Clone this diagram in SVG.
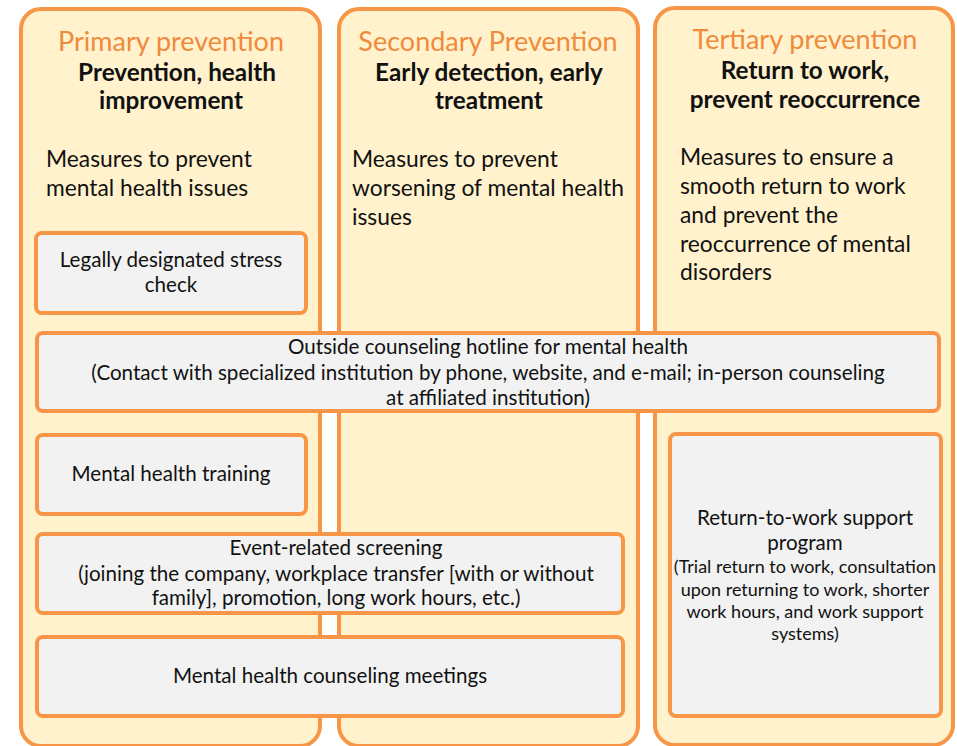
<svg xmlns="http://www.w3.org/2000/svg" width="957" height="746" viewBox="0 0 957 746">
<style>
.col{fill:#FFF2CC;stroke:#F79646;stroke-width:4}
.box{fill:#F2F2F2;stroke:#F79646;stroke-width:4}
text{font-family:Lato,"Noto Sans",sans-serif;fill:#111}
.title{font-size:27px;fill:#F08A3C;text-anchor:middle}
.sub{font-size:24.3px;font-weight:bold;text-anchor:middle}
.desc{font-size:22.8px}
.bt{font-size:20.6px;text-anchor:middle}
.st{font-size:18px;text-anchor:middle}
</style>
<rect width="957" height="746" fill="#fff"/>
<g id="primary">
<rect class="col" x="21" y="9" width="299" height="737" rx="20"/>
<text class="title" x="171" y="51">Primary prevention</text>
<text class="sub" x="177" y="81">Prevention, health</text>
<text class="sub" x="171" y="109">improvement</text>
<text class="desc" x="46" y="167">Measures to prevent</text>
<text class="desc" x="46" y="196">mental health issues</text>
</g>
<g id="secondary">
<rect class="col" x="339" y="9" width="299" height="737" rx="20"/>
<text class="title" x="488" y="51">Secondary Prevention</text>
<text class="sub" x="489" y="81">Early detection, early</text>
<text class="sub" x="489" y="109">treatment</text>
<text class="desc" x="352" y="167">Measures to prevent</text>
<text class="desc" x="352" y="196">worsening of mental health</text>
<text class="desc" x="352" y="225">issues</text>
</g>
<g id="tertiary">
<rect class="col" x="655" y="8" width="298" height="737" rx="20"/>
<text class="title" x="805" y="49">Tertiary prevention</text>
<text class="sub" x="805" y="79">Return to work,</text>
<text class="sub" x="805" y="108">prevent reoccurrence</text>
<text class="desc" x="680" y="165">Measures to ensure a</text>
<text class="desc" x="680" y="194">smooth return to work</text>
<text class="desc" x="680" y="223">and prevent the</text>
<text class="desc" x="680" y="252">reoccurrence of mental</text>
<text class="desc" x="680" y="280">disorders</text>
</g>
<g id="stress-check">
<rect class="box" x="36" y="233" width="270" height="80" rx="6"/>
<text class="bt" x="171" y="267">Legally designated stress</text>
<text class="bt" x="171" y="292">check</text>
</g>
<g id="hotline">
<rect class="box" x="37" y="333" width="902" height="78" rx="6"/>
<text class="bt" x="488" y="354">Outside counseling hotline for mental health</text>
<text class="bt" x="488" y="380">(Contact with specialized institution by phone, website, and e-mail; in-person counseling</text>
<text class="bt" x="488" y="405">at affiliated institution)</text>
</g>
<g id="training">
<rect class="box" x="37" y="435" width="269" height="79" rx="6"/>
<text class="bt" x="171" y="481">Mental health training</text>
</g>
<g id="event-screening">
<rect class="box" x="37" y="534" width="586" height="79" rx="6"/>
<text class="bt" x="336" y="555">Event-related screening</text>
<text class="bt" x="336" y="581">(joining the company, workplace transfer [with or without</text>
<text class="bt" x="336" y="605">family], promotion, long work hours, etc.)</text>
</g>
<g id="counseling-meetings">
<rect class="box" x="37" y="637" width="586" height="79" rx="6"/>
<text class="bt" x="330" y="683">Mental health counseling meetings</text>
</g>
<g id="return-to-work">
<rect class="box" x="670" y="434" width="271" height="282" rx="6"/>
<text class="bt" x="805" y="525">Return-to-work support</text>
<text class="bt" x="805" y="550">program</text>
<text class="st" x="805" y="573">(Trial return to work, consultation</text>
<text class="st" x="805" y="596">upon returning to work, shorter</text>
<text class="st" x="805" y="618">work hours, and work support</text>
<text class="st" x="805" y="640">systems)</text>
</g>
<g id="connectors"></g>
</svg>
